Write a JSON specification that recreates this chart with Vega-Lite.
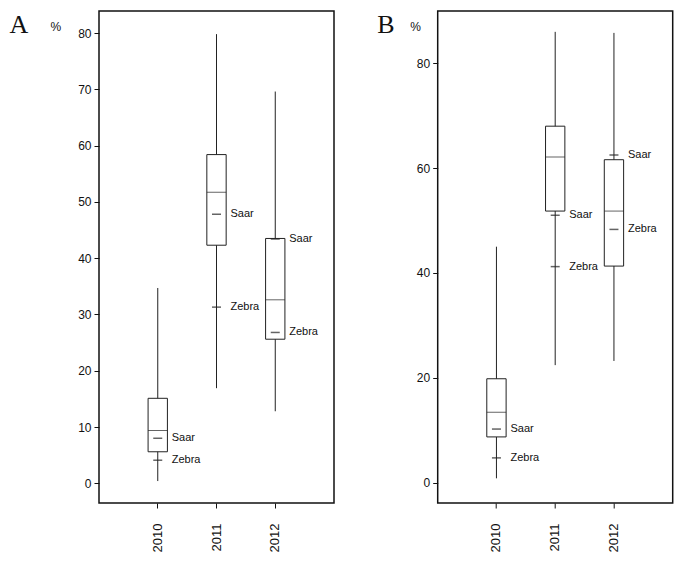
{
  "$schema": "https://vega.github.io/schema/vega-lite/v6.json",
  "padding": {"left": 8, "top": 10, "right": 5, "bottom": 5},
  "background": "white",
  "datasets": {
    "boxA": [
      {"year": "2010", "min": 0.4, "q1": 5.6, "median": 9.4, "q3": 15.1, "max": 34.7},
      {"year": "2011", "min": 16.9, "q1": 42.3, "median": 51.7, "q3": 58.4, "max": 79.8},
      {"year": "2012", "min": 12.8, "q1": 25.6, "median": 32.6, "q3": 43.5, "max": 69.6}
    ],
    "markA": [
      {"year": "2010", "group": "Saar", "value": 8.0},
      {"year": "2010", "group": "Zebra", "value": 4.1},
      {"year": "2011", "group": "Saar", "value": 47.8},
      {"year": "2011", "group": "Zebra", "value": 31.3},
      {"year": "2012", "group": "Saar", "value": 43.4},
      {"year": "2012", "group": "Zebra", "value": 26.8}
    ],
    "boxB": [
      {"year": "2010", "min": 0.8, "q1": 8.7, "median": 13.4, "q3": 19.8, "max": 45.0},
      {"year": "2011", "min": 22.4, "q1": 51.8, "median": 62.1, "q3": 68.0, "max": 86.0},
      {"year": "2012", "min": 23.2, "q1": 41.3, "median": 51.8, "q3": 61.6, "max": 85.8}
    ],
    "markB": [
      {"year": "2010", "group": "Saar", "value": 10.2},
      {"year": "2010", "group": "Zebra", "value": 4.7},
      {"year": "2011", "group": "Saar", "value": 51.0},
      {"year": "2011", "group": "Zebra", "value": 41.2},
      {"year": "2012", "group": "Saar", "value": 62.5},
      {"year": "2012", "group": "Zebra", "value": 48.3}
    ]
  },
  "hconcat": [
    {
      "width": 235,
      "height": 492,
      "encoding": {
        "x": {"field": "year", "type": "nominal", "title": "A", "scale": {"type": "band", "domain": ["2010", "2011", "2012"], "paddingInner": 0.671, "paddingOuter": 0.8355},
          "axis": {"labelAngle": -90, "labelFontSize": 13, "tickSize": 5, "labelPadding": 15, "titleFont": "Liberation Serif", "titleFontSize": 26, "titleFontWeight": "normal", "titleAngle": 0, "titleAlign": "left", "titleBaseline": "alphabetic", "titleX": -90, "titleY": -471}}
      },
      "layer": [
        {"data": {"name": "boxA"}, "mark": {"type": "rule", "color": "#222", "strokeWidth": 1},
          "encoding": {"y": {"field": "min", "type": "quantitative", "title": "%", "scale": {"domain": [-3.5, 83.91], "nice": false, "zero": false},
            "axis": {"values": [0, 10, 20, 30, 40, 50, 60, 70, 80], "tickSize": 5, "labelPadding": 3, "labelFontSize": 12, "titleAngle": 0, "titleAlign": "left", "titleBaseline": "alphabetic", "titleX": -49, "titleY": 19, "titleFontSize": 12, "titleFontWeight": "normal", "titleFont": "Liberation Sans"}},
            "y2": {"field": "max"}}},
        {"data": {"name": "boxA"}, "mark": {"type": "bar", "fill": "white", "stroke": "#222", "strokeWidth": 1},
          "encoding": {"y": {"field": "q1", "type": "quantitative", "title": "%"}, "y2": {"field": "q3"}}},
        {"data": {"name": "boxA"}, "mark": {"type": "tick", "color": "#222", "thickness": 1, "size": 19.3},
          "encoding": {"y": {"field": "median", "type": "quantitative", "title": "%"}}},
        {"data": {"name": "markA"}, "mark": {"type": "tick", "color": "#222", "thickness": 1.5, "size": 9},
          "encoding": {"y": {"field": "value", "type": "quantitative", "title": "%"}}},
        {"data": {"name": "markA"}, "mark": {"type": "text", "align": "left", "baseline": "middle", "dx": 14, "fontSize": 11, "font": "Liberation Sans", "color": "#111"},
          "encoding": {"y": {"field": "value", "type": "quantitative", "title": "%"}, "text": {"field": "group"}}}
      ]
    },
    {
      "width": 235,
      "height": 492,
      "encoding": {
        "x": {"field": "year", "type": "nominal", "title": "B", "scale": {"type": "band", "domain": ["2010", "2011", "2012"], "paddingInner": 0.671, "paddingOuter": 0.8355},
          "axis": {"labelAngle": -90, "labelFontSize": 13, "tickSize": 5, "labelPadding": 15, "titleFont": "Liberation Serif", "titleFontSize": 26, "titleFontWeight": "normal", "titleAngle": 0, "titleAlign": "left", "titleBaseline": "alphabetic", "titleX": -61, "titleY": -471}}
      },
      "layer": [
        {"data": {"name": "boxB"}, "mark": {"type": "rule", "color": "#222", "strokeWidth": 1},
          "encoding": {"y": {"field": "min", "type": "quantitative", "title": "%", "scale": {"domain": [-3.91, 89.98], "nice": false, "zero": false},
            "axis": {"values": [0, 20, 40, 60, 80], "tickSize": 5, "labelPadding": 3, "labelFontSize": 12, "titleAngle": 0, "titleAlign": "left", "titleBaseline": "alphabetic", "titleX": -28, "titleY": 19, "titleFontSize": 12, "titleFontWeight": "normal", "titleFont": "Liberation Sans"}},
            "y2": {"field": "max"}}},
        {"data": {"name": "boxB"}, "mark": {"type": "bar", "fill": "white", "stroke": "#222", "strokeWidth": 1},
          "encoding": {"y": {"field": "q1", "type": "quantitative", "title": "%"}, "y2": {"field": "q3"}}},
        {"data": {"name": "boxB"}, "mark": {"type": "tick", "color": "#222", "thickness": 1, "size": 19.3},
          "encoding": {"y": {"field": "median", "type": "quantitative", "title": "%"}}},
        {"data": {"name": "markB"}, "mark": {"type": "tick", "color": "#222", "thickness": 1.5, "size": 9},
          "encoding": {"y": {"field": "value", "type": "quantitative", "title": "%"}}},
        {"data": {"name": "markB"}, "mark": {"type": "text", "align": "left", "baseline": "middle", "dx": 14, "fontSize": 11, "font": "Liberation Sans", "color": "#111"},
          "encoding": {"y": {"field": "value", "type": "quantitative", "title": "%"}, "text": {"field": "group"}}}
      ]
    }
  ],
  "spacing": 103.7,
  "bounds": "flush",
  "config": {
    "view": {"stroke": "#111", "strokeWidth": 1.5},
    "axis": {"labelFont": "Liberation Sans", "labelColor": "#111", "tickColor": "#111", "titleColor": "#111", "domain": false, "grid": false}
  }
}
